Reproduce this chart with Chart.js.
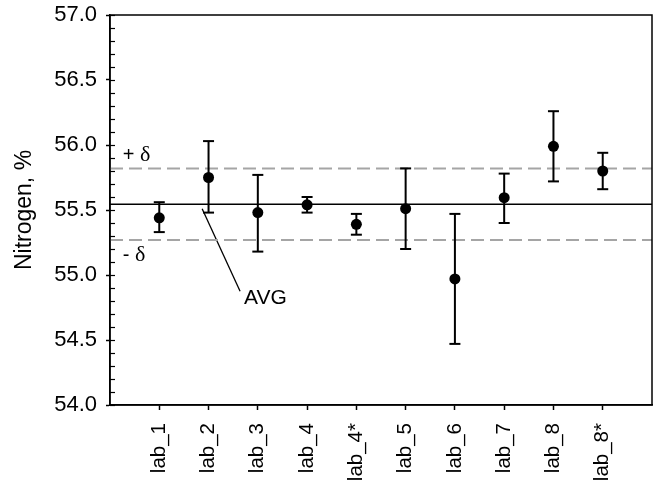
<!DOCTYPE html>
<html>
<head>
<meta charset="utf-8">
<script src="https://cdn.jsdelivr.net/npm/chart.js@4.4.1/dist/chart.umd.min.js"></script>
<style>
  html, body { margin: 0; padding: 0; background: #fff; }
  #wrap { width: 660px; height: 481px; }
</style>
</head>
<body>
<div id="wrap"><canvas id="MChart" width="660" height="481"></canvas></div>
<script>
// labs and measured values (Nitrogen, %)
var labs = ['lab_1', 'lab_2', 'lab_3', 'lab_4', 'lab_4*', 'lab_5', 'lab_6', 'lab_7', 'lab_8', 'lab_8*'];
var means = [55.44, 55.75, 55.48, 55.54, 55.39, 55.51, 54.97, 55.595, 55.99, 55.80];
var upper = [55.56, 56.03, 55.77, 55.60, 55.47, 55.82, 55.47, 55.78, 56.26, 55.94];
var lower = [55.33, 55.48, 55.18, 55.48, 55.31, 55.20, 54.47, 55.40, 55.72, 55.66];

var avg = 55.545;
var deltaHi = 55.82;
var deltaLo = 55.27;

// pointer line from the AVG line to its label
var avgPtrX = [1.87, 2.64];
var avgPtrY = [55.51, 54.875];

// text notes
var noteText = ['+ ', '- ', 'AVG'];
var noteX = [0.26, 0.26, 2.72];
var noteY = [55.92, 55.15, 54.82];

var yTicks = [54.0, 54.5, 55.0, 55.5, 56.0, 56.5, 57.0];

Chart.defaults.font.family = '"Liberation Sans", Arial, sans-serif';
Chart.defaults.color = '#000';

var stems = [];
var caps = [];
var pts = [];
for (var i = 0; i < labs.length; i++) {
    stems.push({x: i + 1, y: lower[i]});
    stems.push({x: i + 1, y: upper[i]});
    stems.push({x: i + 1, y: null});
    caps.push({x: i + 1, y: lower[i]});
    caps.push({x: i + 1, y: upper[i]});
    pts.push({x: i + 1, y: means[i]});
}

function hline(v) {
    return [{x: 0, y: v}, {x: labs.length + 1, y: v}];
}

var extras = {
    id: 'extras',
    afterDraw: function (chart) {
        var ctx = chart.ctx, a = chart.chartArea, x = chart.scales.x, y = chart.scales.y;
        ctx.save();
        ctx.strokeStyle = '#000';
        ctx.lineWidth = 1.5;
        ctx.strokeRect(a.left, a.top, a.right - a.left, a.bottom - a.top);
        // minor ticks, inside the frame
        ctx.lineWidth = 1.2;
        for (var v = y.min; v <= y.max + 1e-9; v += 0.1) {
            var py = Math.round(y.getPixelForValue(v)) + 0.5;
            ctx.beginPath();
            ctx.moveTo(a.left, py);
            ctx.lineTo(a.left + 5, py);
            ctx.stroke();
        }
        ctx.fillStyle = '#000';
        ctx.textBaseline = 'middle';
        ctx.textAlign = 'left';
        for (var k = 0; k < noteText.length; k++) {
            var px = x.getPixelForValue(noteX[k]);
            var qy = y.getPixelForValue(noteY[k]);
            ctx.font = (k < 2 ? '20px' : '21px') + ' "Liberation Sans", Arial, sans-serif';
            ctx.fillText(noteText[k], px, qy);
            if (k < 2) {
                var w = ctx.measureText(noteText[k]).width;
                ctx.font = '22px "Liberation Serif", "Times New Roman", serif';
                ctx.fillText('\u03b4', px + w, qy);
            }
        }
        ctx.restore();
    }
};

var ct = document.getElementById('MChart');
var MChart = new Chart(ct, {
    type: 'scatter',
    data: {
        datasets: [
            {
                label: 'mean', data: pts, order: 0,
                pointRadius: 5.5, pointHoverRadius: 5.5,
                backgroundColor: '#000', borderColor: '#000', borderWidth: 0
            },
            {
                label: 'caps', data: caps, order: 1,
                pointStyle: 'line', pointRadius: 5.5, pointHoverRadius: 5.5,
                borderColor: '#000', borderWidth: 2
            },
            {
                label: 'stems', data: stems, order: 2, showLine: true, spanGaps: false,
                pointRadius: 0, borderColor: '#000', borderWidth: 2
            },
            {
                label: 'AVG', data: hline(avg), order: 3, showLine: true,
                pointRadius: 0, borderColor: '#000', borderWidth: 1.5
            },
            {
                label: '+d', data: hline(deltaHi), order: 4, showLine: true,
                pointRadius: 0, borderColor: 'rgb(165,165,165)', borderWidth: 2, borderDash: [13, 6]
            },
            {
                label: '-d', data: hline(deltaLo), order: 5, showLine: true,
                pointRadius: 0, borderColor: 'rgb(165,165,165)', borderWidth: 2, borderDash: [13, 6]
            },
            {
                label: 'pointer', data: [{x: avgPtrX[0], y: avgPtrY[0]}, {x: avgPtrX[1], y: avgPtrY[1]}],
                order: 6, showLine: true, pointRadius: 0, borderColor: '#000', borderWidth: 1.3
            }
        ]
    },
    options: {
        responsive: false,
        animation: false,
        layout: {padding: {top: 15, right: 8, left: 0, bottom: 0}},
        plugins: {legend: {display: false}, tooltip: {enabled: false}},
        scales: {
            x: {
                type: 'linear', min: 0, max: labs.length + 1,
                afterBuildTicks: function (s) {
                    s.ticks = labs.map(function (l, i) { return {value: i + 1}; });
                },
                afterFit: function (s) {
                    s.height = 76;
                    s.paddingLeft = 0; s.paddingRight = 0;
                },
                ticks: {
                    autoSkip: false, minRotation: 90, maxRotation: 90, padding: 13,
                    font: {size: 20.5},
                    callback: function (v) { return labs[v - 1] || ''; }
                },
                grid: {drawOnChartArea: false, tickLength: 5, tickColor: '#000', tickWidth: 1.5},
                border: {color: '#000', width: 1.5}
            },
            y: {
                min: 54, max: 57,
                afterBuildTicks: function (s) {
                    s.ticks = yTicks.map(function (v) { return {value: v}; });
                },
                afterFit: function (s) {
                    s.width = 110;
                    s.paddingTop = 0; s.paddingBottom = 0;
                },
                ticks: {
                    padding: 9, font: {size: 22},
                    callback: function (v) { return v.toFixed(1); }
                },
                grid: {drawOnChartArea: false, tickLength: 4, tickColor: '#000', tickWidth: 1.5},
                border: {color: '#000', width: 1.5},
                title: {display: true, text: 'Nitrogen, %', font: {size: 23}, padding: {top: 11, bottom: 0}}
            }
        }
    },
    plugins: [extras]
});
</script>
</body>
</html>
